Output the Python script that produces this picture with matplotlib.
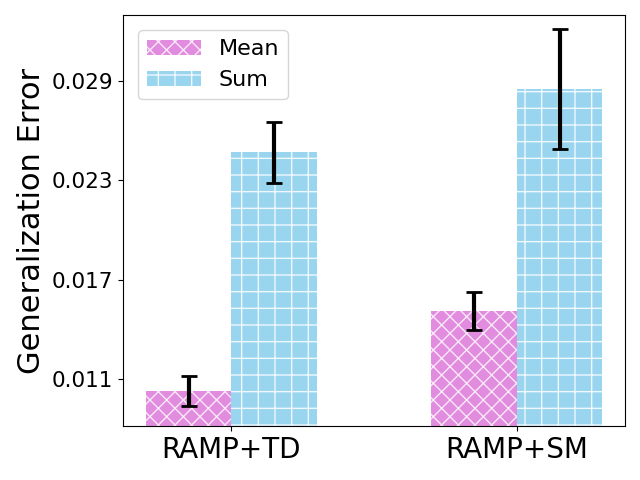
import matplotlib
matplotlib.use('Agg')
import matplotlib.pyplot as plt
import numpy as np

methods = ['RAMP+TD', 'RAMP+SM']
mean_vals = [0.01027, 0.01513]
mean_err = [0.0009, 0.00115]
sum_vals = [0.02469, 0.02852]
sum_err = [0.00184, 0.0036]
yticks = [0.011, 0.017, 0.023, 0.029]

plt.rcParams['hatch.color'] = 'white'
plt.rcParams['hatch.linewidth'] = 1.0

fig, ax = plt.subplots(figsize=(6.4, 4.8), dpi=100)
x = np.arange(len(methods))
w = 0.3

ax.bar(x - w / 2, mean_vals, w, color='orchid', alpha=0.8, hatch='xx',
       edgecolor='white', linewidth=0, label='Mean')
ax.bar(x + w / 2, sum_vals, w, color='skyblue', alpha=0.85, hatch='+',
       edgecolor='white', linewidth=0, label='Sum')
ax.errorbar(x - w / 2, mean_vals, yerr=mean_err, fmt='none', ecolor='black',
            elinewidth=3, capsize=6, capthick=2)
ax.errorbar(x + w / 2, sum_vals, yerr=sum_err, fmt='none', ecolor='black',
            elinewidth=3, capsize=6, capthick=2)

ax.set_ylim(0.00817, 0.03299)
ax.set_yticks(yticks)
ax.set_yticklabels([f'{t:.3f}' for t in yticks], fontsize=15.5)
ax.set_xticks(x)
ax.set_xticklabels(methods, fontsize=20)
ax.set_ylabel('Generalization Error', fontsize=22)
ax.legend(loc='upper left', fontsize=16, handlelength=2.4, borderaxespad=0.7)

fig.subplots_adjust(left=0.192, right=0.977, top=0.969, bottom=0.1125)
plt.savefig('out.png')
